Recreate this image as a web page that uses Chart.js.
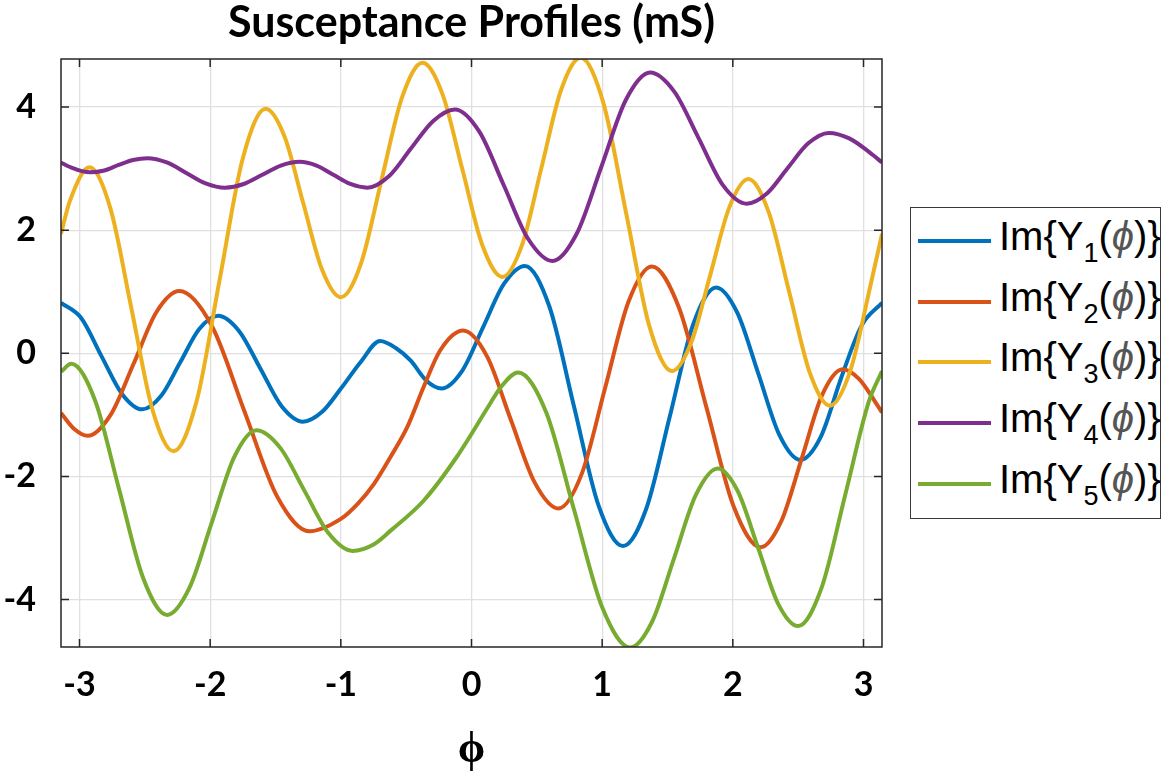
<!DOCTYPE html>
<html>
<head>
<meta charset="utf-8">
<title>Susceptance Profiles</title>
<script src="https://cdn.jsdelivr.net/npm/chart.js@4.4.0/dist/chart.umd.min.js"></script>
<style>
  html, body { margin: 0; padding: 0; background: #fff; }
  #wrap { position: relative; width: 1169px; height: 772px; }
  #chart { display: block; }
  #legend {
    position: absolute; left: 910px; top: 207px; width: 251px; height: 312px;
    box-sizing: border-box; border: 1.5px solid #3a3a3a; background: #fff;
    font-family: "Liberation Sans", Arial, sans-serif; color: #000;
  }
  #legend .swatch { position: absolute; left: 7px; width: 73px; height: 4px; }
  #legend .label { position: absolute; left: 88px; font-size: 40px; line-height: 40px; white-space: nowrap; }
  #legend .sub { font-size: 27px; position: relative; top: 12px; }
  #legend .phi { font-style: italic; color: #555; }
</style>
</head>
<body>
<div id="wrap">
  <canvas id="chart" width="1169" height="772"></canvas>
  <div id="legend"></div>
</div>
<script>
// Susceptance profiles Im{Y_n(phi)} in mS

const X_TICKS = [-3, -2, -1, 0, 1, 2, 3];
const Y_TICKS = [-4, -2, 0, 2, 4];
const SERIES_NUM = ['1', '2', '3', '4', '5'];
const COLORS = ['#0072BD', '#D95319', '#EDB120', '#7E2F8E', '#77AC30'];

const Y1_PHI = [-3.1416, -2.986, -2.831, -2.675, -2.52, -2.375, -2.23, -2.085, -1.94, -1.778, -1.615, -1.453, -1.29, -1.143, -0.995, -0.848, -0.70, -0.582, -0.465, -0.347, -0.229, -0.07, 0.09, 0.249, 0.408, 0.596, 0.784, 0.972, 1.16, 1.338, 1.517, 1.695, 1.873, 2.034, 2.195, 2.355, 2.516, 2.672, 2.829, 2.985, 3.1416];
const Y1_VAL = [0.82, 0.57, -0.05, -0.66, -0.91, -0.69, -0.15, 0.39, 0.61, 0.36, -0.25, -0.86, -1.11, -0.95, -0.56, -0.14, 0.20, 0.09, -0.12, -0.44, -0.57, -0.28, 0.43, 1.13, 1.42, 0.76, -0.86, -2.47, -3.13, -2.52, -1.03, 0.46, 1.07, 0.66, -0.33, -1.32, -1.73, -1.36, -0.40, 0.45, 0.82];

const Y2_PHI = [-3.1416, -3.04, -2.937, -2.762, -2.586, -2.411, -2.235, -1.986, -1.738, -1.489, -1.24, -1.0, -0.873, -0.746, -0.619, -0.492, -0.365, -0.239, -0.064, 0.119, 0.301, 0.484, 0.666, 0.845, 1.023, 1.202, 1.38, 1.588, 1.797, 2.005, 2.213, 2.37, 2.527, 2.683, 2.84, 2.967, 3.093, 3.1416];
const Y2_VAL = [-0.97, -1.23, -1.34, -1.0, -0.17, 0.67, 1.01, 0.44, -0.94, -2.32, -2.89, -2.69, -2.45, -2.12, -1.68, -1.20, -0.54, 0.05, 0.37, -0.05, -1.08, -2.10, -2.52, -1.95, -0.56, 0.84, 1.41, 0.74, -0.87, -2.48, -3.15, -2.73, -1.71, -0.68, -0.26, -0.42, -0.80, -0.96];

const Y3_PHI = [-3.1416, -3.076, -2.924, -2.763, -2.602, -2.441, -2.28, -2.104, -1.928, -1.751, -1.575, -1.431, -1.288, -1.144, -1.0, -0.844, -0.688, -0.531, -0.375, -0.222, -0.069, 0.084, 0.237, 0.387, 0.536, 0.686, 0.835, 1.01, 1.185, 1.36, 1.535, 1.681, 1.827, 1.973, 2.119, 2.275, 2.432, 2.588, 2.744, 2.898, 3.052, 3.1416];
const Y3_VAL = [1.94, 2.46, 3.02, 2.35, 0.72, -0.92, -1.59, -0.78, 1.19, 3.16, 3.97, 3.52, 2.44, 1.36, 0.91, 1.47, 2.82, 4.16, 4.72, 4.21, 2.98, 1.75, 1.24, 1.76, 3.02, 4.28, 4.80, 4.06, 2.26, 0.45, -0.29, 0.17, 1.27, 2.37, 2.83, 2.29, 0.99, -0.31, -0.85, -0.29, 1.09, 1.94];

const Y4_PHI = [-3.1416, -3.077, -2.92, -2.81, -2.70, -2.59, -2.48, -2.332, -2.183, -2.035, -1.886, -1.744, -1.601, -1.459, -1.316, -1.186, -1.057, -0.927, -0.797, -0.63, -0.462, -0.295, -0.127, 0.06, 0.247, 0.433, 0.62, 0.807, 0.994, 1.18, 1.367, 1.552, 1.737, 1.921, 2.106, 2.263, 2.42, 2.577, 2.734, 2.891, 3.049, 3.1416];
const Y4_VAL = [3.10, 3.03, 2.94, 2.97, 3.06, 3.14, 3.17, 3.10, 2.93, 2.76, 2.69, 2.75, 2.90, 3.05, 3.11, 3.05, 2.90, 2.75, 2.69, 2.88, 3.33, 3.77, 3.96, 3.60, 2.73, 1.86, 1.50, 1.95, 3.03, 4.11, 4.56, 4.25, 3.50, 2.74, 2.43, 2.60, 3.01, 3.41, 3.58, 3.49, 3.26, 3.10];

const Y5_PHI = [-3.1416, -3.063, -2.88, -2.697, -2.513, -2.33, -2.159, -1.988, -1.817, -1.646, -1.462, -1.279, -1.095, -0.911, -0.746, -0.619, -0.365, -0.112, 0.142, 0.217, 0.357, 0.572, 0.786, 1.001, 1.215, 1.382, 1.55, 1.717, 1.884, 2.038, 2.192, 2.345, 2.499, 2.679, 2.86, 3.04, 3.1416];
const Y5_VAL = [-0.30, -0.17, -0.77, -2.21, -3.65, -4.25, -3.81, -2.75, -1.69, -1.25, -1.54, -2.23, -2.92, -3.21, -3.10, -2.88, -2.39, -1.68, -0.82, -0.57, -0.31, -0.96, -2.55, -4.13, -4.78, -4.36, -3.33, -2.30, -1.87, -2.24, -3.15, -4.06, -4.43, -3.81, -2.30, -0.79, -0.29];

const SERIES = [
    [Y1_PHI, Y1_VAL],
    [Y2_PHI, Y2_VAL],
    [Y3_PHI, Y3_VAL],
    [Y4_PHI, Y4_VAL],
    [Y5_PHI, Y5_VAL]
];

const TICK_LEN = 8;

// MATLAB-like box around the axes with inward ticks on all four sides
const axesBox = {
    id: 'axesBox',
    afterDatasetsDraw(chart) {
        const { ctx, chartArea: a, scales: { x, y } } = chart;
        ctx.save();
        ctx.strokeStyle = '#262626';
        ctx.lineWidth = 1.5;
        ctx.beginPath();
        X_TICKS.forEach(v => {
            const px = x.getPixelForValue(v);
            ctx.moveTo(px, a.bottom); ctx.lineTo(px, a.bottom - TICK_LEN);
            ctx.moveTo(px, a.top); ctx.lineTo(px, a.top + TICK_LEN);
        });
        Y_TICKS.forEach(v => {
            const py = y.getPixelForValue(v);
            ctx.moveTo(a.left, py); ctx.lineTo(a.left + TICK_LEN, py);
            ctx.moveTo(a.right, py); ctx.lineTo(a.right - TICK_LEN, py);
        });
        ctx.stroke();
        ctx.strokeRect(a.left, a.top, a.right - a.left, a.bottom - a.top);
        ctx.restore();
    }
};

const tickFont = { family: 'Lato', weight: 'bold', size: 34 };

const chart = new Chart(document.getElementById('chart'), {
    type: 'line',
    data: {
        datasets: SERIES.map(([phi, val], i) => ({
            label: 'Im{Y' + SERIES_NUM[i] + '(ϕ)}',
            data: phi.map((p, k) => ({ x: p, y: val[k] })),
            borderColor: COLORS[i],
            backgroundColor: COLORS[i],
            borderWidth: 4,
            pointRadius: 0,
            cubicInterpolationMode: 'monotone',
            fill: false,
            clip: 0,
            order: SERIES.length - i
        }))
    },
    options: {
        responsive: false,
        animation: false,
        layout: { padding: { left: 0, right: 287, top: 0, bottom: 0 } },
        plugins: {
            legend: { display: false },
            tooltip: { enabled: false },
            title: {
                display: true,
                text: 'Susceptance Profiles (mS)',
                fullSize: false,
                color: '#000',
                font: { family: 'Lato', weight: 'bold', size: 43, lineHeight: 1 },
                padding: { top: 1.5, bottom: 14.5 }
            }
        },
        scales: {
            x: {
                type: 'linear',
                min: -Math.PI,
                max: Math.PI,
                afterBuildTicks: s => { s.ticks = X_TICKS.map(v => ({ value: v })); },
                afterFit: s => { s.height = 125; },
                grid: { color: '#e0e0e0', lineWidth: 1.3, drawTicks: false },
                border: { display: false },
                ticks: { color: '#000', font: tickFont, padding: 18, maxRotation: 0 },
                title: {
                    display: true,
                    text: 'ϕ',
                    color: '#000',
                    font: { family: 'Open Sans', weight: 'bold', size: 44, lineHeight: 1 },
                    padding: { top: 1, bottom: 1 }
                }
            },
            y: {
                min: -4.77,
                max: 4.78,
                afterBuildTicks: s => { s.ticks = Y_TICKS.map(v => ({ value: v })); },
                afterFit: s => { s.width = 61; },
                grid: { color: '#e0e0e0', lineWidth: 1.3, drawTicks: false },
                border: { display: false },
                ticks: { color: '#000', font: tickFont, padding: 25 }
            }
        }
    },
    plugins: [axesBox]
});

// legend with real subscripts, built from the chart's datasets
const legendEl = document.getElementById('legend');
const ROW_TOP = 33, ROW_STEP = 60.7;
chart.data.datasets.forEach((ds, i) => {
    const cy = ROW_TOP + i * ROW_STEP;
    const sw = document.createElement('div');
    sw.className = 'swatch';
    sw.style.top = (cy - 2) + 'px';
    sw.style.background = ds.borderColor;
    legendEl.appendChild(sw);
    const lab = document.createElement('div');
    lab.className = 'label';
    lab.style.top = (cy - 25) + 'px';
    lab.innerHTML = 'Im{Y<span class="sub">' + SERIES_NUM[i] + '</span>(<span class="phi">ϕ</span>)}';
    legendEl.appendChild(lab);
});
</script>
</body>
</html>
